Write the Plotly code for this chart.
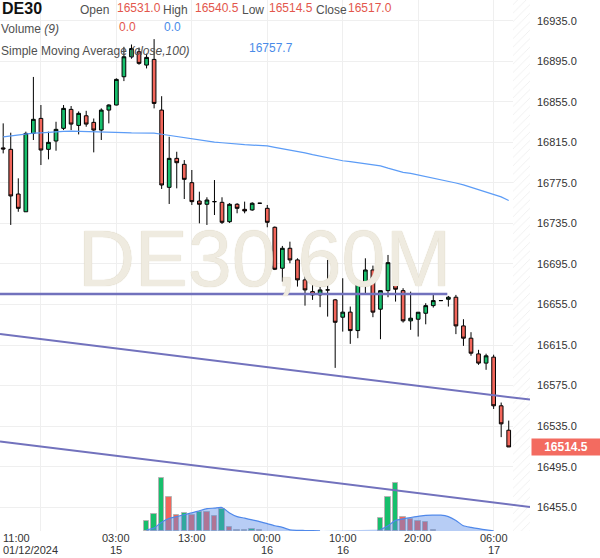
import plotly.graph_objects as go

# ---------------- data ----------------
candle_idx = list(range(68))
opens = [16809.5, 16808.1, 16764.0, 16746.5, 16823.8, 16838.6, 16808.1, 16816.3, 16828.8, 16847.5,
         16831.7, 16841.2, 16834.7, 16827.1, 16846.8, 16851.8, 16879.7, 16899.4, 16904.3, 16891.2,
         16896.8, 16846.8, 16770.6, 16799.2, 16793.3, 16775.2, 16757.1, 16753.9, 16756.5, 16755.8,
         16736.7, 16753.9, 16748.9, 16748.3, 16754.9, 16749.9, 16731.2, 16690.8, 16710.5, 16699.0,
         16679.3, 16667.7, 16664.5, 16669.4, 16659.6, 16642.5, 16647.5, 16629.3, 16675.0, 16689.1,
         16650.4, 16668.7, 16698.3, 16668.7, 16638.9, 16640.5, 16646.4, 16653.9, 16658.9, 16660.2,
         16662.2, 16633.9, 16621.8, 16606.3, 16597.2, 16603.1, 16555.1, 16531.0]
highs = [16833.7, 16824.5, 16779.5, 16825.5, 16879.5, 16851.8, 16825.5, 16835.3, 16851.8, 16850.8,
         16845.5, 16846.1, 16838.5, 16848.5, 16852.5, 16878.1, 16909.2, 16911.5, 16908.5, 16902.5,
         16916.8, 16860.5, 16820.5, 16805.7, 16797.5, 16787.7, 16766.3, 16760.8, 16777.8, 16760.8,
         16755.0, 16755.0, 16756.5, 16755.9, 16755.2, 16753.2, 16732.0, 16712.8, 16717.0, 16700.6,
         16684.2, 16676.0, 16673.4, 16699.0, 16660.5, 16680.9, 16653.0, 16676.0, 16700.6, 16693.4,
         16668.7, 16703.9, 16703.9, 16671.1, 16667.7, 16647.5, 16656.3, 16664.5, 16659.2, 16663.5,
         16664.5, 16640.5, 16627.7, 16610.3, 16606.5, 16605.5, 16558.3, 16540.5]
lows = [16804.1, 16733.5, 16746.5, 16746.5, 16817.3, 16792.6, 16798.2, 16806.7, 16827.1, 16827.1,
        16822.8, 16830.4, 16805.1, 16817.3, 16833.7, 16851.5, 16875.4, 16897.5, 16891.5, 16887.9,
        16848.5, 16769.0, 16754.2, 16769.6, 16759.1, 16753.2, 16735.1, 16733.5, 16743.3, 16734.5,
        16735.5, 16745.0, 16745.0, 16747.5, 16754.6, 16731.2, 16689.0, 16677.6, 16695.7, 16672.7,
        16653.9, 16659.6, 16652.4, 16643.1, 16592.5, 16628.3, 16616.2, 16621.8, 16666.1, 16642.5,
        16620.8, 16662.2, 16657.9, 16637.2, 16630.0, 16623.4, 16635.5, 16652.0, 16658.6, 16653.0,
        16625.8, 16614.2, 16604.5, 16595.5, 16590.6, 16552.0, 16524.2, 16514.5]
closes = [16808.5, 16762.1, 16749.9, 16823.8, 16837.7, 16807.4, 16815.0, 16827.8, 16848.5, 16833.0,
          16843.6, 16833.0, 16827.1, 16846.8, 16851.8, 16877.1, 16899.4, 16907.5, 16892.9, 16898.8,
          16853.4, 16772.9, 16799.2, 16794.9, 16778.5, 16756.5, 16753.9, 16758.1, 16756.5, 16736.1,
          16753.9, 16749.9, 16747.3, 16754.9, 16754.9, 16736.1, 16689.8, 16710.5, 16699.0, 16679.3,
          16669.4, 16664.5, 16669.4, 16669.4, 16637.5, 16647.5, 16629.3, 16675.0, 16689.1, 16647.5,
          16668.7, 16696.3, 16670.1, 16638.9, 16641.5, 16647.4, 16653.9, 16658.9, 16658.9, 16662.2,
          16633.9, 16621.8, 16607.0, 16597.2, 16604.4, 16555.1, 16537.3, 16514.5]
sma100 = [16820.4, 16821.4, 16822.4, 16823.2, 16824.0, 16824.4, 16825.0, 16825.4, 16825.9, 16826.0,
          16825.9, 16825.8, 16825.7, 16825.6, 16825.3, 16825.0, 16824.6, 16824.3, 16824.2, 16824.1,
          16824.0, 16823.0, 16821.9, 16820.6, 16819.4, 16818.3, 16816.9, 16816.1, 16815.3, 16814.6,
          16813.8, 16813.4, 16812.7, 16812.3, 16811.9, 16811.5, 16810.0, 16808.7, 16807.3, 16806.3,
          16804.6, 16802.9, 16801.2, 16799.5, 16798.1, 16796.8, 16796.0, 16795.1, 16794.1, 16793.2,
          16791.8, 16789.5, 16787.2, 16785.3, 16784.4, 16782.9, 16781.4, 16779.9, 16778.2, 16776.6,
          16774.9, 16773.1, 16770.7, 16768.4, 16766.2, 16764.0, 16761.2, 16757.7]
volume = [None] * 19 + [10.0, 16.7, 53.0, 34.0, 15.7, 18.0, 15.7, 19.0, 18.7, 15.0, 22.3,
                        4.0, 1.3, 1.4, 2.4, 0.7] + [None] * 15 + \
         [13.3, 34.3, 47.7, 14.3, 12.0, 10.3, 9.3, 1.0] + [None] * 10
vol_ma_period = 9

# drawn trend lines (x in candle index, y in price)
hline_x = [-0.424, 58.86]
hline_y = [16665.4, 16665.4]
chan_up_x = [-0.424, 69.82]
chan_up_y = [16626.0, 16561.2]
chan_lo_x = [-0.424, 69.82]
chan_lo_y = [16520.0, 16455.3]

price_ticks = list(range(16455, 16936, 40))
time_tick_idx = [5, 15, 25, 35, 45, 55, 65]
time_tick_top = ['11:00', '03:00', '13:00', '00:00', '10:00', '20:00', '06:00']
time_tick_bot = ['01/12/2024', '15', '', '16', '16', '', '17']

symbol = 'DE30'
watermark = 'DE30,60M'
ohlc_readout = [16531.0, 16540.5, 16514.5, 16517.0]
volume_readout = [0.0, 0.0]
last_price = 16514.5

# ---------------- styling ----------------
GREEN = '#17bf6c'
RED = '#f2665b'
FONT = 'Arial, Liberation Sans, sans-serif'
PW, PH = 530, 531          # plot area in px
X0, X1 = -0.424, 69.82
Y0, Y1 = 16431.6, 16955.4


def pxx(x):
    return x / PW


def pxy(y):
    return 1 - y / PH


fig = go.Figure()

# hatched "future" zone
fig.add_trace(go.Bar(
    x=[(67.5 + X1) / 2], y=[1], width=[X1 - 67.5], yaxis='y',
    marker=dict(color='white', line=dict(width=0),
                pattern=dict(shape='/', fgcolor='#e0e0e0', bgcolor='white', size=6, solidity=0.15)),
    hoverinfo='skip', showlegend=False))

# volume bars, coloured by change against the previous bar
vol_colors = []
prev = None
for v in volume:
    if v is None:
        vol_colors.append(GREEN)
    else:
        vol_colors.append(GREEN if (prev is None or v >= prev) else RED)
    prev = v
fig.add_trace(go.Bar(
    x=candle_idx, y=volume, yaxis='y2', width=0.72,
    marker=dict(color=vol_colors, line=dict(color='#b4b4b4', width=1)),
    showlegend=False))

# volume moving average
vol_ma = []
for i in range(len(volume)):
    win = [v for v in volume[max(0, i - vol_ma_period + 1):i + 1] if v is not None]
    vol_ma.append(sum(win) / vol_ma_period if win else None)
fig.add_trace(go.Scatter(
    x=candle_idx, y=vol_ma, yaxis='y2', mode='lines',
    line=dict(color='#4f88ea', width=1.2, shape='spline', smoothing=0.6),
    fill='tozeroy', fillcolor='rgba(84,136,232,0.42)', connectgaps=False,
    showlegend=False))

# trend lines
for xs, ys, w in [(hline_x, hline_y, 2.5), (chan_up_x, chan_up_y, 2), (chan_lo_x, chan_lo_y, 2)]:
    fig.add_trace(go.Scatter(x=xs, y=ys, yaxis='y3', mode='lines',
                             line=dict(color='#7272bd', width=w), showlegend=False))

# SMA 100
fig.add_trace(go.Scatter(x=candle_idx, y=sma100, yaxis='y3', mode='lines',
                         line=dict(color='#5c9cf6', width=1.2), showlegend=False))

# candles
fig.add_trace(go.Candlestick(
    x=candle_idx, open=opens, high=highs, low=lows, close=closes, yaxis='y3',
    increasing=dict(fillcolor=GREEN, line=dict(color='black', width=1)),
    decreasing=dict(fillcolor=RED, line=dict(color='black', width=1)),
    whiskerwidth=0, showlegend=False))

ann = []
# watermark
ann.append(dict(text=watermark, x=pxx(264), y=pxy(258), xref='paper', yref='paper',
                showarrow=False, xanchor='center', yanchor='middle',
                font=dict(family=FONT, size=79, color='#efebe0',
                          shadow='0px 0px 1px #cbc2a6')))

# time labels
for k, (i, t, b) in enumerate(zip(time_tick_idx, time_tick_top, time_tick_bot)):
    xp = (i - X0) / (X1 - X0)
    anchor = 'center'
    if k == 0:
        xp, anchor = pxx(1), 'left'
    ann.append(dict(text=t, x=xp, y=pxy(538), xref='paper', yref='paper', showarrow=False,
                    xanchor=anchor, yanchor='middle', font=dict(family=FONT, size=11, color='#333')))
    if b:
        ann.append(dict(text=b, x=xp, y=pxy(550), xref='paper', yref='paper', showarrow=False,
                        xanchor=anchor, yanchor='middle', font=dict(family=FONT, size=11, color='#333')))

# header readouts
LBL = '#505050'
VRED = '#e3564c'
VBLUE = '#4a8be8'


def txt(s, x, y, color, size=12, bold=False):
    ann.append(dict(text=(f'<b>{s}</b>' if bold else s), x=pxx(x), y=pxy(y), xref='paper',
                    yref='paper', showarrow=False, xanchor='left', yanchor='middle',
                    font=dict(family=FONT, size=size, color=color)))


txt(symbol, 0, 8.5, '#111', size=16, bold=True)
for lab, val, xl, xv in zip(['Open', 'High', 'Low', 'Close'], ohlc_readout,
                            [78, 161, 240, 314], [115, 193, 267, 346]):
    txt(lab, xl, 10.5, LBL)
    txt(f'{val:.1f}', xv, 7.5, VRED)
txt('Volume <i>(9)</i>', -1, 29, LBL)
txt(f'{volume_readout[0]:.1f}', 117, 27, VRED)
txt(f'{volume_readout[1]:.1f}', 162, 27, VBLUE)
txt('Simple Moving Average <i>(close,100)</i>', -1, 50.5, LBL)
txt(f'{sma100[-1]:.1f}', 247, 48.5, VBLUE)

# last price tag
ann.append(dict(text=f'<b>{last_price:.1f}</b>', x=1, y=last_price, xref='paper', yref='y3',
                xanchor='left', yanchor='middle', showarrow=False, xshift=1,
                bgcolor='#f36b60', width=66, height=14, borderpad=1,
                font=dict(family=FONT, size=12, color='white')))

fig.update_layout(
    width=600, height=558,
    margin=dict(l=0, r=70, t=0, b=27, autoexpand=False),
    paper_bgcolor='white', plot_bgcolor='white',
    showlegend=False, bargap=0, barmode='overlay',
    xaxis=dict(range=[X0, X1], showgrid=True, gridcolor='#efefef', gridwidth=1,
               tickvals=time_tick_idx, showticklabels=False, zeroline=False,
               rangeslider=dict(visible=False), showline=False, ticks=''),
    yaxis=dict(range=[0, 1], visible=False, fixedrange=True),
    yaxis2=dict(range=[0, PH], overlaying='y', visible=False),
    yaxis3=dict(range=[Y0, Y1], overlaying='y', side='right', showgrid=True,
                gridcolor='#efefef', gridwidth=1, tickvals=price_ticks,
                ticktext=[f'{t:.1f}' for t in price_ticks], ticks='',
                ticklabelstandoff=6, zeroline=False, showline=False,
                tickfont=dict(family=FONT, size=11, color='#333')),
    annotations=ann,
)

fig.write_html('out.html', config={'displayModeBar': False},
               post_script="document.body.style.margin='0';")
